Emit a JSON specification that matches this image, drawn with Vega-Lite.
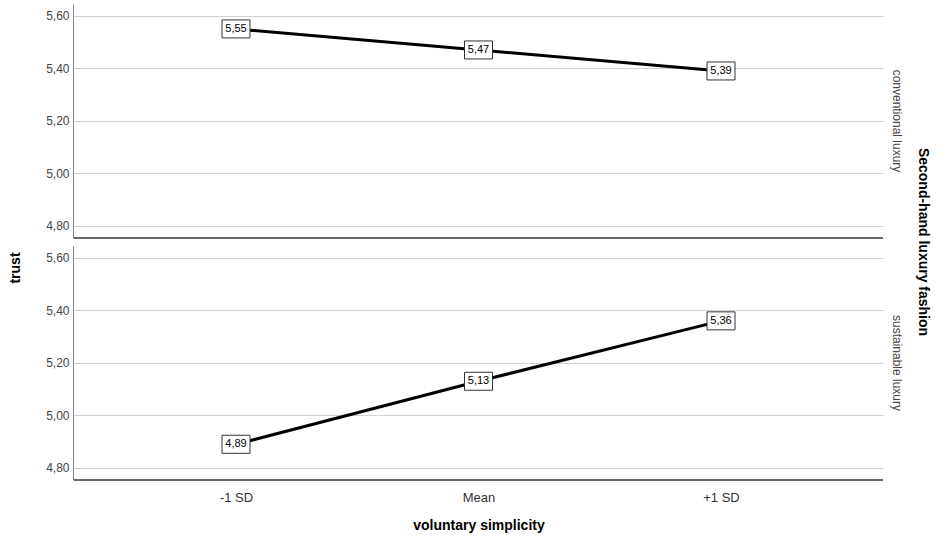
{
  "$schema": "https://vega.github.io/schema/vega-lite/v6.json",
  "padding": {"left": 8, "top": 4, "right": 3, "bottom": 5},
  "data": {"values": [
    {"type": "conventional luxury", "vs": "-1 SD", "trust": 5.55},
    {"type": "conventional luxury", "vs": "Mean", "trust": 5.47},
    {"type": "conventional luxury", "vs": "+1 SD", "trust": 5.39},
    {"type": "sustainable luxury", "vs": "-1 SD", "trust": 4.89},
    {"type": "sustainable luxury", "vs": "Mean", "trust": 5.13},
    {"type": "sustainable luxury", "vs": "+1 SD", "trust": 5.36}
  ]},
  "title": {"text": "trust", "orient": "left", "anchor": "middle", "fontSize": 14, "fontWeight": "bold", "color": "#000", "font": "Liberation Sans", "offset": 23},
  "facet": {
    "row": {
      "field": "type",
      "type": "nominal",
      "sort": ["conventional luxury", "sustainable luxury"],
      "title": "Second-hand luxury fashion",
      "header": {
        "labelOrient": "right",
        "labelAngle": 90,
        "labelFontSize": 12,
        "labelColor": "#444",
        "labelFont": "Liberation Sans",
        "labelPadding": 6,
        "titleOrient": "right",
        "titleAngle": 90,
        "titleFontSize": 14,
        "titleFontWeight": "bold",
        "titleColor": "#000",
        "titleFont": "Liberation Sans",
        "titlePadding": 3
      }
    }
  },
  "spacing": 7,
  "spec": {
    "width": 809,
    "height": 234,
    "encoding": {
      "x": {
        "field": "vs",
        "type": "ordinal",
        "sort": ["-1 SD", "Mean", "+1 SD"],
        "scale": {"type": "point", "padding": 0.668},
        "axis": {"title": "voluntary simplicity", "ticks": false, "domain": false, "grid": false, "labelAngle": 0, "labelFontSize": 13, "labelColor": "#333", "labelPadding": 10, "titleFontSize": 14, "titleFontWeight": "bold", "titleColor": "#000", "titlePadding": 14}
      },
      "y": {
        "field": "trust",
        "type": "quantitative",
        "scale": {"domain": [4.754, 5.645], "nice": false, "zero": false},
        "axis": {"title": null, "values": [4.8, 5.0, 5.2, 5.4, 5.6], "format": ".2f", "grid": true, "gridColor": "#d0d0d0", "ticks": false, "domain": true, "domainColor": "#888", "labelFontSize": 12, "labelColor": "#444", "labelPadding": 4}
      }
    },
    "layer": [
      {"mark": {"type": "rule", "color": "#555", "strokeWidth": 1}, "encoding": {"y": {"datum": 4.754}, "x": null}},
      {"mark": {"type": "line", "color": "#000", "strokeWidth": 3}},
      {"mark": {"type": "point", "shape": "M-1,-0.643L1,-0.643L1,0.643L-1,0.643Z", "size": 784, "filled": true, "fill": "#fff", "fillOpacity": 1, "stroke": "#333", "strokeWidth": 1, "opacity": 1}},
      {"mark": {"type": "text", "fontSize": 11, "color": "#000", "font": "Liberation Sans"}, "encoding": {"text": {"field": "trust", "format": ".2f"}}}
    ]
  },
  "config": {
    "view": {"stroke": null},
    "font": "Liberation Sans",
    "locale": {"number": {"decimal": ",", "thousands": ".", "grouping": [3], "currency": ["", " €"]}}
  }
}
